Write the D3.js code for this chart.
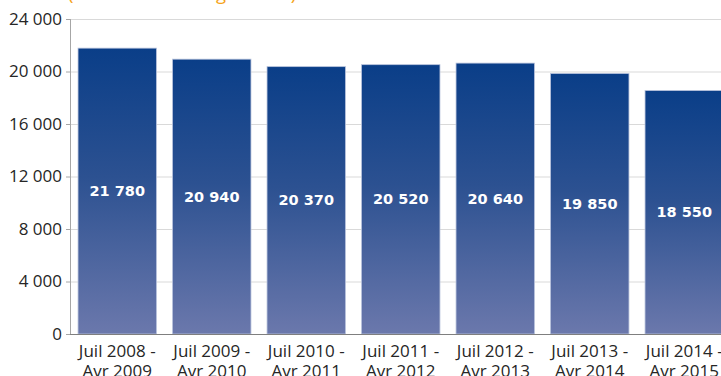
<!DOCTYPE html>
<html>
<head>
<meta charset="utf-8">
<script src="https://cdn.jsdelivr.net/npm/d3@7"></script>
<style>
  body { margin: 0; background: #fff; overflow: hidden; }
  svg { display: block; font-family: "Open Sans", sans-serif; }
</style>
</head>
<body>
<script>
// Data
const periods = ["Juil 2008 -|Avr 2009", "Juil 2009 -|Avr 2010", "Juil 2010 -|Avr 2011",
                 "Juil 2011 -|Avr 2012", "Juil 2012 -|Avr 2013", "Juil 2013 -|Avr 2014",
                 "Juil 2014 -|Avr 2015"];
const values = [21780, 20940, 20370, 20520, 20640, 19850, 18550];
const valueLabels = ["21 780", "20 940", "20 370", "20 520", "20 640", "19 850", "18 550"];
const yTicks = [0, 4000, 8000, 12000, 16000, 20000, 24000];
const subtitle = "(en nombre de logements)";

let margin, width, height, svg, x, y;

setupCanvasSize();
appendSvg("body");
setupScales();
appendGrid();
appendBars();
appendAxes();
appendSubtitle();

function setupCanvasSize() {
    margin = {top: 19, left: 70, bottom: 42, right: 0};
    width = 721 - margin.left - margin.right;
    height = 376 - margin.top - margin.bottom;
}

function appendSvg(domElement) {
    const root = d3.select(domElement).append("svg")
        .attr("width", 721)
        .attr("height", 376);

    const grad = root.append("defs").append("linearGradient")
        .attr("id", "barGrad")
        .attr("x1", 0).attr("y1", 0).attr("x2", 0).attr("y2", 1);
    grad.append("stop").attr("offset", "0%").attr("stop-color", "#0a3e88");
    grad.append("stop").attr("offset", "45%").attr("stop-color", "#2c5191");
    grad.append("stop").attr("offset", "100%").attr("stop-color", "#6b78ac");

    svg = root.append("g")
        .attr("transform", `translate(${margin.left}, ${margin.top})`);
}

function setupScales() {
    // 7 bands of ~94.5px each, last one runs past the right edge
    x = d3.scaleBand()
        .domain(periods)
        .range([0, 94.5 * periods.length])
        .paddingInner(0.17)
        .paddingOuter(0.085);

    y = d3.scaleLinear()
        .domain([0, 24000])
        .range([height, 0]);
}

function appendGrid() {
    svg.append("g")
        .selectAll("line")
        .data(yTicks.filter(d => d > 0))
        .join("line")
        .attr("x1", 0)
        .attr("x2", width)
        .attr("y1", d => y(d) + 0.5)
        .attr("y2", d => y(d) + 0.5)
        .attr("stroke", "#d9d9d9")
        .attr("stroke-width", 1);
}

function appendBars() {
    svg.append("g")
        .selectAll("rect")
        .data(values)
        .join("rect")
        .attr("x", (d, i) => x(periods[i]))
        .attr("y", d => y(d))
        .attr("width", x.bandwidth())
        .attr("height", d => height - y(d))
        .attr("fill", "url(#barGrad)")
        .attr("stroke", "#b9c3dc")
        .attr("stroke-width", 0.8);

    svg.append("g")
        .selectAll("text")
        .data(values)
        .join("text")
        .attr("x", (d, i) => x(periods[i]) + x.bandwidth() / 2)
        .attr("y", d => y(d / 2))
        .attr("dy", "0.35em")
        .attr("text-anchor", "middle")
        .attr("fill", "#fff")
        .attr("font-family", "'DejaVu Sans', Verdana, sans-serif")
        .attr("font-weight", 700)
        .attr("font-size", "14.5px")
        .text((d, i) => valueLabels[i]);
}

function appendAxes() {
    const yAxis = svg.append("g")
        .call(d3.axisLeft(y)
            .tickValues(yTicks)
            .tickSize(4)
            .tickPadding(4)
            .tickFormat(d => d3.format(",")(d).replace(",", " ")));
    yAxis.select(".domain").attr("stroke", "#a6a6a6").attr("d", `M0.5,0V${height}`);
    yAxis.selectAll(".tick line").attr("stroke", "#a6a6a6");
    yAxis.selectAll(".tick text")
        .attr("font-size", "17px")
        .attr("fill", "#262626")
        .attr("font-family", "'Open Sans', sans-serif");

    svg.append("line")
        .attr("x1", 0).attr("x2", width)
        .attr("y1", height + 0.5).attr("y2", height + 0.5)
        .attr("stroke", "#7f7f7f");

    const xLabels = svg.append("g")
        .selectAll("text")
        .data(periods)
        .join("text")
        .attr("x", d => x(d) + x.bandwidth() / 2)
        .attr("y", height + 23)
        .attr("text-anchor", "middle")
        .attr("font-size", "17px")
        .attr("fill", "#262626");
    xLabels.each(function(d) {
        const parts = d.split("|");
        const t = d3.select(this);
        t.append("tspan").attr("x", t.attr("x")).text(parts[0]);
        t.append("tspan").attr("x", t.attr("x")).attr("dy", 20).text(parts[1]);
    });
}

function appendSubtitle() {
    d3.select("svg").append("text")
        .attr("x", 68)
        .attr("y", 0)
        .attr("font-size", "18.5px")
        .attr("fill", "#f5a31a")
        .text(subtitle);
}
</script>
</body>
</html>
